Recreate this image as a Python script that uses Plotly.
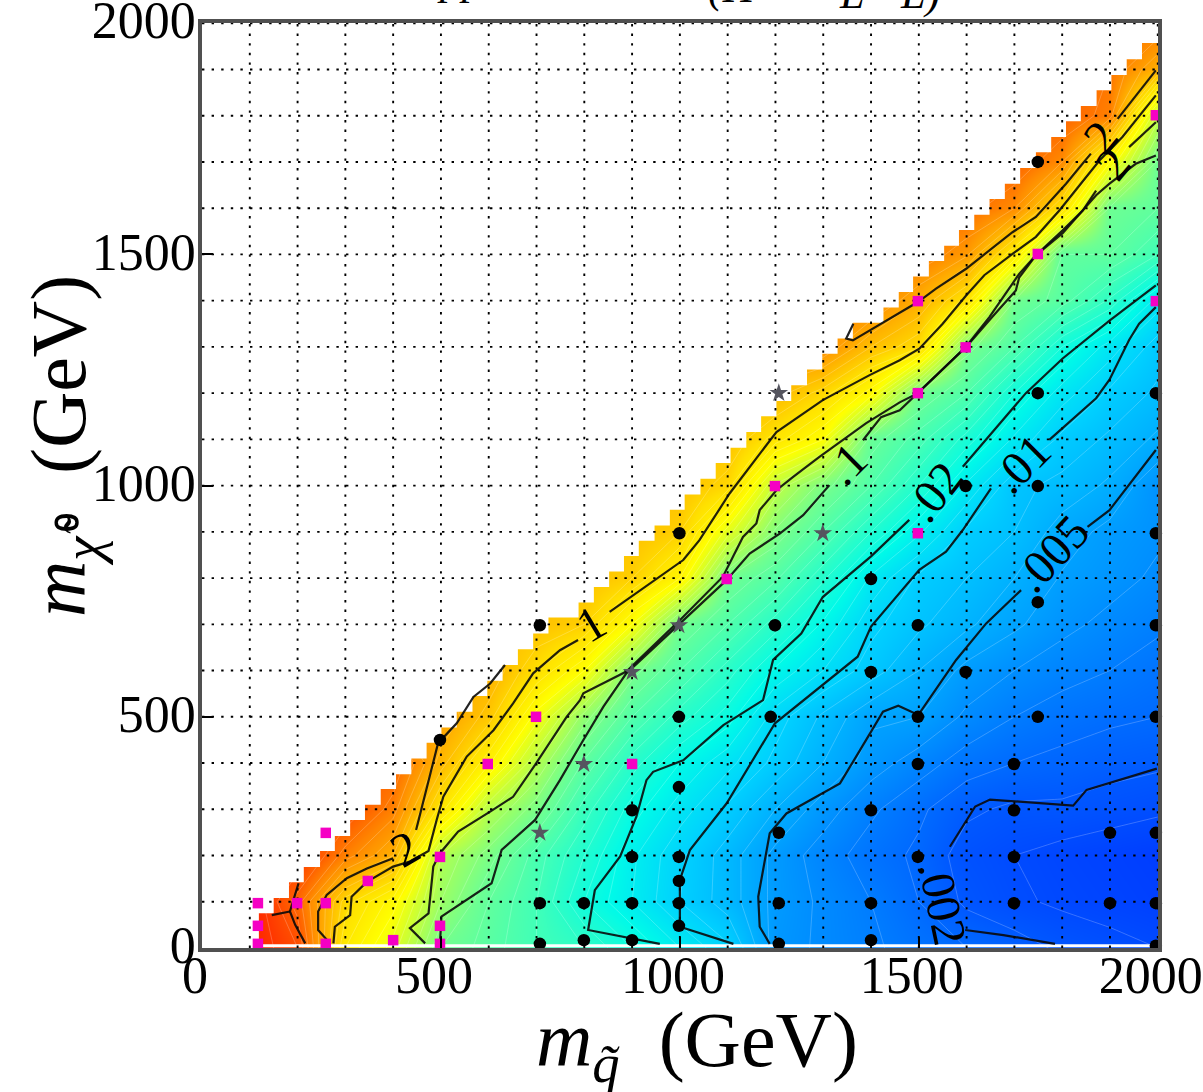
import plotly.graph_objects as go

# ---------- heat table: log10 of the value, rows y = 0..2000, columns x = 0..2000, step 100 ----------
grid_x = [0,100,200,300,400,500,600,700,800,900,1000,1100,1200,1300,1400,1500,1600,1700,1800,1900,2000]
grid_y = [0,100,200,300,400,500,600,700,800,900,1000,1100,1200,1300,1400,1500,1600,1700,1800,1900,2000]
heat_z = [
 [1.0,1.0,0.8,-0.1,-0.45,-1.0,-1.15,-1.3,-1.4,-1.6,-1.8,-1.98,-2.35,-2.42,-2.48,-2.55,-2.6,-2.65,-2.72,-2.76,-2.8],
 [1.0,1.0,0.65,0.05,-0.25,-0.8,-1.1,-1.3,-1.6,-1.8,-2.0,-2.15,-2.33,-2.42,-2.5,-2.6,-2.72,-2.78,-2.82,-2.85,-2.88],
 [0.9,0.9,0.9,0.55,0.3,-0.7,-0.95,-1.25,-1.5,-1.78,-1.98,-2.15,-2.33,-2.45,-2.55,-2.62,-2.75,-2.8,-2.84,-2.87,-2.9],
 [0.8,0.8,0.8,0.8,0.55,-0.05,-0.68,-0.96,-1.35,-1.65,-1.85,-2.02,-2.2,-2.35,-2.48,-2.58,-2.68,-2.72,-2.72,-2.75,-2.78],
 [0.7,0.7,0.7,0.7,0.7,0.25,-0.18,-0.7,-1.12,-1.45,-1.7,-1.87,-2.03,-2.2,-2.35,-2.45,-2.55,-2.6,-2.63,-2.66,-2.68],
 [0.4,0.4,0.4,0.4,0.4,0.4,0.15,-0.35,-0.85,-1.2,-1.45,-1.65,-1.95,-2.12,-2.28,-2.3,-2.42,-2.5,-2.55,-2.58,-2.6],
 [0.3,0.3,0.3,0.3,0.3,0.3,0.3,0.0,-0.3,-0.95,-1.2,-1.45,-1.72,-1.9,-2.05,-2.2,-2.33,-2.4,-2.46,-2.5,-2.55],
 [0.2,0.2,0.2,0.2,0.2,0.2,0.2,0.2,0.1,-0.3,-1.0,-1.2,-1.45,-1.72,-1.97,-2.08,-2.18,-2.28,-2.37,-2.43,-2.48],
 [0.2,0.2,0.2,0.2,0.2,0.2,0.2,0.2,0.2,0.1,-0.2,-1.0,-1.18,-1.48,-1.82,-2.02,-2.1,-2.2,-2.31,-2.36,-2.42],
 [0.2,0.2,0.2,0.2,0.2,0.2,0.2,0.2,0.2,0.2,0.1,-0.45,-0.92,-1.2,-1.5,-1.78,-2.02,-2.1,-2.25,-2.33,-2.38],
 [0.2,0.2,0.2,0.2,0.2,0.2,0.2,0.2,0.2,0.2,0.2,0.05,-0.62,-0.95,-1.2,-1.5,-1.82,-2.07,-2.13,-2.22,-2.38],
 [0.2,0.2,0.2,0.2,0.2,0.2,0.2,0.2,0.2,0.2,0.2,0.2,-0.05,-0.3,-1.05,-1.25,-1.55,-1.82,-2.03,-2.12,-2.22],
 [0.25,0.25,0.25,0.25,0.25,0.25,0.25,0.25,0.25,0.25,0.25,0.25,0.25,0.05,-0.25,-1.0,-1.2,-1.6,-1.85,-2.02,-2.12],
 [0.5,0.5,0.5,0.5,0.5,0.5,0.5,0.5,0.5,0.5,0.5,0.5,0.5,0.5,0.2,0.02,-0.95,-1.2,-1.6,-1.85,-2.05],
 [0.55,0.55,0.55,0.55,0.55,0.55,0.55,0.55,0.55,0.55,0.55,0.55,0.55,0.55,0.55,0.3,-0.05,-1.0,-1.15,-1.42,-1.85],
 [0.6,0.6,0.6,0.6,0.6,0.6,0.6,0.6,0.6,0.6,0.6,0.6,0.6,0.6,0.6,0.6,0.42,-0.1,-1.1,-1.1,-1.3],
 [0.65,0.65,0.65,0.65,0.65,0.65,0.65,0.65,0.65,0.65,0.65,0.65,0.65,0.65,0.65,0.65,0.65,0.5,-0.02,-1.02,-1.1],
 [0.7,0.7,0.7,0.7,0.7,0.7,0.7,0.7,0.7,0.7,0.7,0.7,0.7,0.7,0.7,0.7,0.7,0.7,0.5,-0.3,-1.02],
 [0.7,0.7,0.7,0.7,0.7,0.7,0.7,0.7,0.7,0.7,0.7,0.7,0.7,0.7,0.7,0.7,0.7,0.7,0.7,0.55,-0.65],
 [0.7,0.7,0.7,0.7,0.7,0.7,0.7,0.7,0.7,0.7,0.7,0.7,0.7,0.7,0.7,0.7,0.7,0.7,0.7,0.6,0.3],
 [0.7,0.7,0.7,0.7,0.7,0.7,0.7,0.7,0.7,0.7,0.7,0.7,0.7,0.7,0.7,0.7,0.7,0.7,0.7,0.7,0.6],
]
colour_stops = [
 [0.0,"#0030ff"],[0.075,"#0058ff"],[0.175,"#00a0ff"],[0.25,"#00d0ff"],[0.325,"#00fae8"],
 [0.425,"#40ffb8"],[0.5,"#70ff90"],[0.575,"#b0ff50"],[0.675,"#ffff00"],[0.75,"#ffe000"],
 [0.825,"#ffb000"],[0.875,"#ff8c00"],[0.925,"#ff6000"],[1.0,"#ff2000"],
]

# ---------- stepped upper edge of the computed region ----------
edge_x = [119,150,182,213,247,278,310,341,374,406,438,470,501,533,566,597,629,661,693,725,788,820,852,883,914,947,979,1010,1043,1075,1106,1139,1170,1202,1233,1266,1298,1330,1362,1426,1458,1488,1521,1553,1584,1616,1648,1680,1712,1745,1777,1808,1839,1872,1903,1935,1967]
edge_y = [75,108,142,175,210,242,277,310,344,376,410,444,477,511,545,578,612,646,680,715,747,781,814,848,881,914,948,981,1015,1049,1082,1116,1150,1183,1217,1251,1285,1318,1352,1385,1419,1452,1486,1519,1553,1586,1620,1653,1687,1721,1754,1788,1821,1855,1888,1922,1957]

# ---------- contour lines (None = gap left for a label) ----------
line_5_x = [216,195,184,202,None,146,184]
line_5_y = [10,50,79,140,None,71,79]
line_2_x = [268,243,243,261,303,345,400,None,448,494,533,568,603,634,None,1363,1348,1362,1431,1498,1536,1599,1696,1745,1808,1860,None,1916,1996]
line_2_y = [10,39,79,115,151,172,194,None,255,443,486,543,572,612,None,1350,1318,1314,1357,1397,1426,1469,1548,1581,1653,1718,None,1793,1898]
line_1_x = [275,278,310,313,345,400,435,474,491,505,554,610,651,693,749,787,None,853,902,1007,1041,1104,1202,1299,1397,1460,1501,1550,1599,1637,1696,1745,1794,1878,1926,1996]
line_1_y = [10,46,71,111,143,176,187,210,277,327,414,471,529,594,644,666,None,727,763,839,882,983,1116,1185,1239,1271,1296,1350,1411,1455,1501,1538,1595,1703,1754,1844]
line_p2_x = [467,435,474,484,498,536,603,651,697,763,791,798,888,993,1090,1104,1132,1160,1167,1202,1237,1292,1334,1390,1460,1498,1599,1648,1696,1710,1745,1801,1843,1871,None,1940,1996]
line_p2_y = [10,43,75,176,205,252,295,327,396,500,536,551,598,702,803,831,889,918,947,990,1019,1062,1094,1135,1180,1200,1301,1365,1437,1458,1498,1552,1595,1638,None,1732,1786]
line_p1_x = [498,501,606,627,697,749,798,840,888,993,1097,1146,1209,1258,1313,None,1383,1421,1460,1498,1599,1648,1703,1710,1745,1801,1871,1899,1954,1996]
line_p1_y = [10,68,140,212,277,363,450,522,594,694,795,853,896,936,1001,None,1098,1148,1163,1200,1300,1358,1422,1450,1498,1546,1628,1653,1696,1714]
line_p02_x = [958,808,822,875,909,930,944,1007,1091,1174,1195,1202,1254,1299,1400,1480,None,1592,1682,1724,1801,1899,1996]
line_p02_y = [9,39,125,198,284,363,381,406,482,536,623,630,680,759,847,926,None,1041,1149,1200,1275,1357,1433]
line_p01_x = [1112,1000,1000,1021,1098,1199,1372,1400,1501,1557,1592,1651,None,1773,1871,1899,1940,1961,1996]
line_p01_y = [9,46,147,212,313,486,630,695,818,857,904,994,None,1099,1189,1229,1315,1350,1386]
line_p005_x = [1188,1167,1164,1188,1223,1335,1377,1425,1457,1499,1578,1641,1714,None,1853,1899,1996]
line_p005_y = [9,46,111,248,291,356,428,511,524,504,623,702,774,None,911,947,1077]
line_p002_x = [1785,1677,1597,None,1565,1618,1649,1823,1851,1998]
line_p002_y = [9,28,39,None,219,306,321,308,342,388]

# ---------- sample points ----------
black_x = [1749,999,707,498,1749,1996,1598,1749,1996,1400,1749,1199,1498,1996,998,1190,1400,1598,1498,1749,1996,1498,1699,900,998,1400,1699,1207,1900,1996,900,998,1498,1699,998,707,799,900,998,1207,1400,1699,1900,1996,998,707,799,900,1207,1400,1996]
black_y = [1700,897,698,450,1200,1200,999,999,897,798,748,698,698,698,500,500,597,597,500,500,500,398,398,298,348,298,298,249,249,249,197,197,197,197,145,97,97,97,97,97,97,97,97,97,48,9,17,17,9,17,5]
magenta_x = [117,199,259,117,117,259,347,259,400,498,498,498,598,699,1199,1098,900,1498,1498,1598,1749,1498,1996,1996]
magenta_y = [97,97,97,48,9,249,145,9,17,197,48,9,398,500,999,798,398,897,1200,1299,1501,1399,1801,1399]
star_x = [707,900,799,998,1299,1207]
star_y = [249,597,398,698,897,1200]

# ---------- contour labels ----------
label_text = ["1",".1",".02",".01",".005",".002","2","2","2"]
label_x = [815,1348,1532,1714,1777,1551,425,1881,1906]
label_y = [702,1048,987,1048,854,97,215,1754,1696]
label_angle = [-31,-45,-52,-45,-47,78,-30,-50,-50]

tick_vals = [0,500,1000,1500,2000]
tick_text = ["0","500","1000","1500","2000"]
grid_vals = [100,200,300,400,500,600,700,800,900,1000,1100,1200,1300,1400,1500,1600,1700,1800,1900,2000]

SERIF = "Liberation Serif"
fig = go.Figure()
fig.add_trace(go.Heatmap(x=grid_x, y=grid_y, z=heat_z, zmin=-3, zmax=1, colorscale=colour_stops,
                         zsmooth="best", showscale=False, hoverinfo="skip"))
fig.add_trace(go.Contour(x=grid_x, y=grid_y, z=heat_z, showscale=False, hoverinfo="skip",
                         contours=dict(coloring="none", start=-3, end=1, size=0.1),
                         line=dict(color="rgba(255,255,255,0.22)", width=1, smoothing=0)))
# white mask above the stepped edge
mask_x = [0, 119] + edge_x + [2002, 2002, 0, 0]
mask_y = [0, 0] + edge_y + [2002, 2002, 2002, 0]
fig.add_trace(go.Scatter(x=mask_x, y=mask_y, mode="lines", fill="toself", fillcolor="white",
                         line=dict(width=0, shape="hv", color="white"), hoverinfo="skip"))
# white strip along the bottom
fig.add_trace(go.Scatter(x=[0,2000], y=[5,5], mode="lines", line=dict(color="white", width=3), hoverinfo="skip"))

# dotted grid, above the colours
gx, gy = [], []
for v in grid_vals:
    gx += [v, v, None]; gy += [0, 2000, None]
    gx += [0, 2000, None]; gy += [v, v, None]
fig.add_trace(go.Scatter(x=gx, y=gy, mode="lines", hoverinfo="skip",
                         line=dict(color="black", width=1.9, dash="2.4px,7.2px")))

for lx, ly in [(line_5_x,line_5_y),(line_2_x,line_2_y),(line_1_x,line_1_y),(line_p2_x,line_p2_y),
               (line_p1_x,line_p1_y),(line_p02_x,line_p02_y),(line_p01_x,line_p01_y),
               (line_p005_x,line_p005_y),(line_p002_x,line_p002_y)]:
    fig.add_trace(go.Scatter(x=lx, y=ly, mode="lines", hoverinfo="skip",
                             line=dict(color="rgba(10,10,10,0.9)", width=2.2)))

fig.add_trace(go.Scatter(x=black_x, y=black_y, mode="markers", cliponaxis=False, hoverinfo="skip",
                         marker=dict(symbol="circle", size=12.5, color="black")))
fig.add_trace(go.Scatter(x=magenta_x, y=magenta_y, mode="markers", cliponaxis=False, hoverinfo="skip",
                         marker=dict(symbol="square", size=10.5, color="#f500c4")))
fig.add_trace(go.Scatter(x=star_x, y=star_y, mode="markers", cliponaxis=False, hoverinfo="skip",
                         marker=dict(symbol="star", size=14, color="#55555f")))

ann = []
for t, x, y, a in zip(label_text, label_x, label_y, label_angle):
    ann.append(dict(x=x, y=y, xref="x", yref="y", text=t, textangle=a, showarrow=False,
                    font=dict(family=SERIF, size=48, color="black")))

def px(x): return (x - 202) / 956
def py(y): return (948 - y) / 925

ann.append(dict(x=px(697), y=py(1045), xref="paper", yref="paper", showarrow=False,
                xanchor="center", yanchor="middle",
                text="<i>m</i><sub><i>q̃</i></sub>\u00a0\u00a0(GeV)", font=dict(family=SERIF, size=78, color="black")))
ann.append(dict(x=px(64), y=py(446), xref="paper", yref="paper", showarrow=False, textangle=-90,
                xanchor="center", yanchor="middle",
                text="<i>m</i><sub><i>χ̃</i>\u200a⁰</sub>\u00a0\u00a0(GeV)", font=dict(family=SERIF, size=78, color="black")))
# title cut off by the top of the image
for t, x, bottom in [("pp", 460, 6), ("(H̃", 732, 14), ("L", 851, 20), ("L)", 920, 20)]:
    ann.append(dict(x=px(x), y=py(bottom), xref="paper", yref="paper", xanchor="center", yanchor="bottom",
                    showarrow=False, text="<i>%s</i>" % t, font=dict(family=SERIF, size=44, color="black")))

axis_common = dict(range=[0, 2000.5], tickmode="array", tickvals=tick_vals, ticktext=tick_text,
                   ticks="inside", ticklen=11, tickwidth=1.5, tickcolor="black",
                   showgrid=False, zeroline=False, mirror=True, showline=True,
                   linecolor="#505050", linewidth=3.5, layer="above traces", ticklabeloverflow="allow",
                   tickfont=dict(family=SERIF, size=52, color="black"), fixedrange=True)
x_axis = dict(axis_common, ticklabelstandoff=-21, ticklabelshift=-7)
y_axis = dict(axis_common, ticklabelstandoff=-8, ticklabelshift=-3)
fig.update_layout(width=1203, height=1092, margin=dict(l=202, r=45, t=23, b=144, pad=0, autoexpand=False),
                  showlegend=False, paper_bgcolor="white", plot_bgcolor="white",
                  xaxis=x_axis, yaxis=y_axis, annotations=ann)
fig.write_html("out.html", config=dict(displayModeBar=False),
               post_script="document.body.style.margin='0';document.body.style.overflow='hidden';")
